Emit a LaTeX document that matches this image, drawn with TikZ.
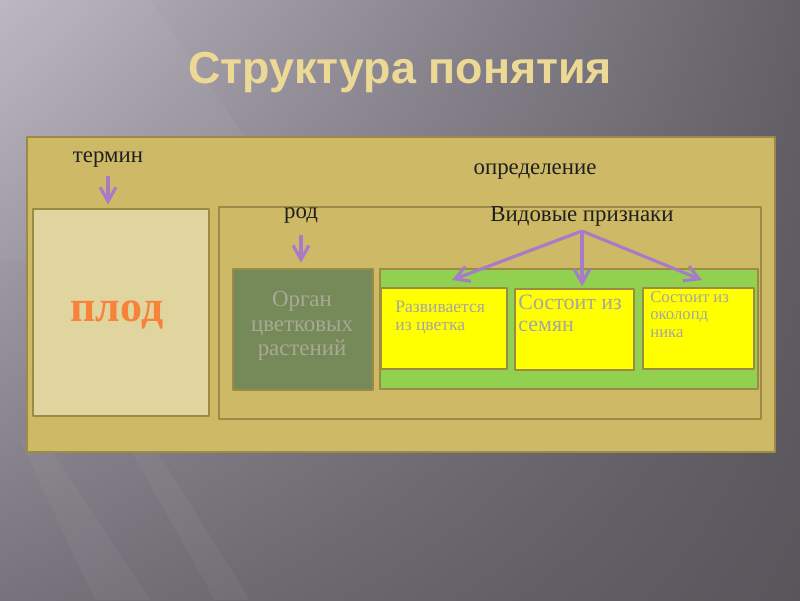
\documentclass[tikz,border=0pt]{standalone}
\usepackage{fontspec}
\setmainfont{Liberation Serif}
\setsansfont{Liberation Sans}
\usetikzlibrary{arrows.meta,shadings}
\definecolor{bgUL}{HTML}{BAB5C0}
\definecolor{bgUR}{HTML}{646068}
\definecolor{bgLL}{HTML}{77727B}
\definecolor{bgLR}{HTML}{59555B}
\definecolor{panel}{HTML}{CEB966}
\definecolor{edge}{HTML}{9C8B45}
\definecolor{termfill}{HTML}{E0D59E}
\definecolor{genfill}{HTML}{758A58}
\definecolor{gentext}{HTML}{A9A996}
\definecolor{grass}{HTML}{92D050}
\definecolor{lemon}{HTML}{FFFF00}
\definecolor{greytext}{HTML}{A6A6A6}
\definecolor{carrot}{HTML}{F7833A}
\definecolor{lilac}{HTML}{A67CC8}
\definecolor{titlegold}{HTML}{EDD996}
\begin{document}
\begin{tikzpicture}[x=0.02cm,y=-0.02cm, line join=round,
  box/.style={draw=edge,line width=1.3pt,inner sep=0pt,anchor=north west},
  lbl/.style={font=\fontsize{13}{14}\selectfont,text=black!88},
  arr/.style={draw=lilac,line width=1.8pt,-{Straight Barb[length=8pt,width=9pt]}}]
\useasboundingbox (0,0) rectangle (800,600);
% Background: grey slide with light rays from the upper left
\shade[upper left=bgUL,upper right=bgUR,lower left=bgLL,lower right=bgLR] (0,0) rectangle (800,600);
\fill[white,opacity=.04] (0,0) -- (150,0) -- (330,260) -- (0,260) -- cycle;
\fill[white,opacity=.04] (20,440) -- (45,440) -- (150,600) -- (95,600) -- cycle;
\fill[white,opacity=.04] (125,440) -- (150,440) -- (250,600) -- (215,600) -- cycle;
\node[font=\sffamily\bfseries\fontsize{25.5}{30}\selectfont,text=titlegold] (title) at (400,72) {Структура понятия};

% Outer panel: term and definition
\draw[draw=edge,line width=1.3pt,fill=panel] (27,137) rectangle (775,452);
\node[lbl] (term) at (108,160) {термин};
\node[box,fill=termfill,minimum width=3.52cm,minimum height=4.14cm] (plod) at (32,208) {};
\node[font=\bfseries\fontsize{25}{30}\selectfont,text=carrot] (plodtext) at (117,315) {плод};
\draw[arr,shorten <=1pt,shorten >=2pt] (term.south) -- (term.south |- plod.north);
\node[lbl] (defn) at (535,172) {определение};
\node[box,fill=panel,minimum width=10.84cm,minimum height=4.24cm] (defbox) at (218,206) {};

% Genus
\node[lbl] (genus) at (301,216) {род};
\node[box,fill=genfill,minimum width=2.8cm,minimum height=2.42cm] (organ) at (232,268) {};
\node[font=\fontsize{13}{14}\selectfont,text=gentext,align=center] (organtext) at (302,326) {Орган\\цветковых\\растений};
\draw[arr,shorten <=3pt,shorten >=3pt] (genus.south) -- (genus.south |- organ.north);

% Species features
\node[lbl] (species) at (582,216) {Видовые признаки};
\node[box,fill=grass,minimum width=7.56cm,minimum height=2.4cm] (featbox) at (379,268) {};
\node[box,fill=lemon,minimum width=2.52cm,minimum height=1.62cm] (featA) at (380,287) {};
\node[box,fill=lemon,minimum width=2.38cm,minimum height=1.62cm] (featB) at (514,288) {};
\node[box,fill=lemon,minimum width=2.22cm,minimum height=1.62cm] (featC) at (642,287) {};
\node[anchor=north west,align=left,inner sep=0pt,text=greytext,font=\fontsize{10}{10}\selectfont] (textA) at (395,301) {Развивается\\из цветка};
\node[anchor=north west,align=left,inner sep=0pt,text=greytext,font=\fontsize{12.5}{12.5}\selectfont] (textB) at (518,295) {Состоит из\\семян};
\node[anchor=north west,align=left,inner sep=0pt,text=greytext,font=\fontsize{9.5}{10}\selectfont] (textC) at (650,291) {Состоит из\\околопд\\ника};
\coordinate (fork) at (582,231);
\coordinate (tipA) at (452,280);
\coordinate (tipC) at (702,280);
\draw[arr] (fork) -- (tipA);
\draw[arr,shorten >=1pt] (fork) -- (fork |- featB.north);
\draw[arr] (fork) -- (tipC);
\end{tikzpicture}
\end{document}
